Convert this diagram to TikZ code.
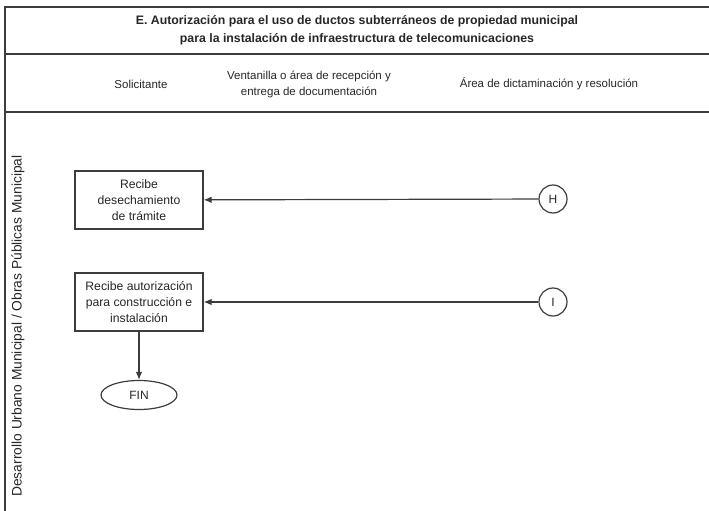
\documentclass[tikz,border=0pt]{standalone}
\usepackage{fontspec}
\setmainfont{Liberation Sans}
\usepackage{xcolor}
\usetikzlibrary{shapes.geometric,arrows.meta}
\definecolor{linegray}{RGB}{60,60,60}

\tikzset{
  paso/.style={draw=linegray,line width=1.2pt,minimum width=128pt,minimum height=58pt,align=center,inner sep=2pt,font=\fontsize{12.2}{16}\selectfont},
  conector/.style={draw=linegray,line width=1.2pt,circle,minimum size=28pt,inner sep=0pt,font=\fontsize{12}{13}\selectfont},
  fin/.style={draw=linegray,line width=1.2pt,ellipse,minimum width=76pt,minimum height=29pt,inner sep=0pt,font=\fontsize{12}{13}\selectfont},
  encabezado/.style={font=\fontsize{11.5}{16}\selectfont,align=center},
  flecha/.style={draw=linegray,line width=1.2pt,-{Latex[length=8pt,width=6.5pt]}}
}

\begin{document}
\begin{tikzpicture}[x=1pt,y=-1pt,text=black!85]
                \useasboundingbox (0,0) rectangle (709,511);
                % marco de la tabla
                \draw[linegray,line width=1.8pt] (709,7) -- (5,7) -- (5,511);
                \draw[linegray,line width=1.8pt] (5,54) -- (709,54);
                \draw[linegray,line width=1.8pt] (5,112) -- (709,112);
                \node[font=\bfseries\fontsize{12.3}{18}\selectfont,align=center] (titulo) at (357,30)
                    {E. Autorización para el uso de ductos subterráneos de propiedad municipal\\
                     para la instalación de infraestructura de telecomunicaciones};
                \node[encabezado] (solicitante) at (141,84) {Solicitante};
                \node[encabezado] (ventanilla) at (309,84)
                    {Ventanilla o área de recepción y\\entrega de documentación};
                \node[encabezado] (dictamen) at (549,84) {Área de dictaminación y resolución};
                \node[rotate=90,font=\fontsize{13.8}{16}\selectfont] (carril) at (18,326)
                    {Desarrollo Urbano Municipal / Obras Públicas Municipal};
                % pasos
                \node[paso] (desecha) at (139,200) {Recibe\\desechamiento\\de trámite};
                \node[paso] (autoriza) at (139,302) {Recibe autorización\\para construcción e\\instalación};
                \node[conector] (H) at (553,199) {H};
                \node[conector] (I) at (553,302) {I};
                \node[fin] (final) at (139,395) {FIN};
                \draw[flecha] (H) -- (desecha);
                \draw[flecha] (I) -- (autoriza);
                \draw[flecha] (autoriza) -- (final);
            \end{tikzpicture}
\end{document}
